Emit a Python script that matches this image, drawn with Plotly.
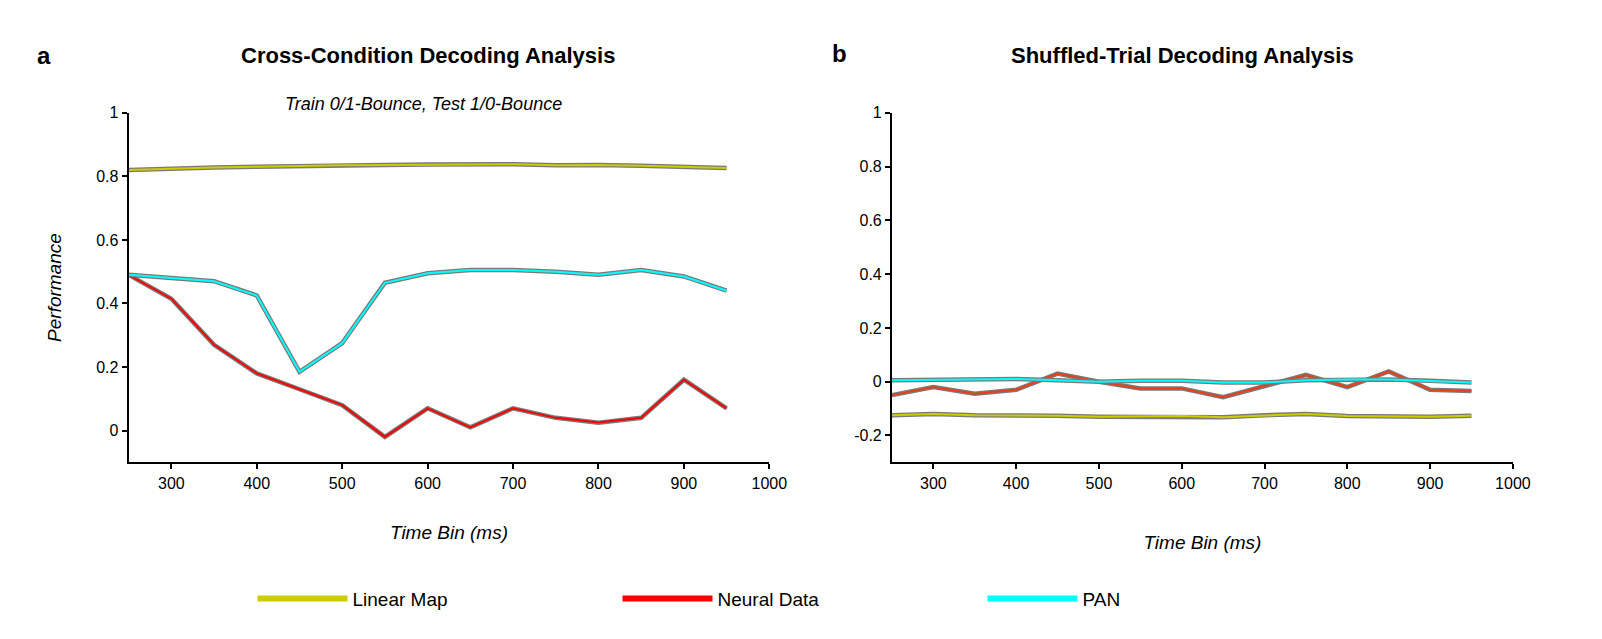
import plotly.graph_objects as go

time_bins = [250, 300, 350, 400, 450, 500, 550, 600, 650, 700, 750, 800, 850, 900, 950]

# panel a: cross-condition
a_linear = [0.82, 0.825, 0.828, 0.83, 0.833, 0.835, 0.836, 0.837, 0.838, 0.838, 0.835, 0.836, 0.833, 0.83, 0.826]
a_neural = [0.49, 0.415, 0.27, 0.18, 0.13, 0.08, -0.02, 0.07, 0.01, 0.07, 0.04, 0.025, 0.04, 0.16, 0.07]
a_pan = [0.49, 0.48, 0.47, 0.425, 0.185, 0.275, 0.465, 0.495, 0.505, 0.505, 0.5, 0.49, 0.505, 0.485, 0.44]

# panel b: shuffled-trial
b_linear = [-0.125, -0.12, -0.125, -0.125, -0.127, -0.13, -0.13, -0.128, -0.132, -0.125, -0.12, -0.128, -0.13, -0.13, -0.127]
b_neural = [-0.05, -0.02, -0.045, -0.03, 0.03, 0.0, -0.025, -0.025, -0.058, -0.015, 0.025, -0.02, 0.038, -0.03, -0.035]
b_pan = [0.005, 0.007, 0.01, 0.01, 0.005, 0.0, 0.003, 0.003, -0.003, -0.003, 0.005, 0.008, 0.008, 0.003, -0.003]

x_ticks = [300, 400, 500, 600, 700, 800, 900, 1000]
a_yticks = [0, 0.2, 0.4, 0.6, 0.8, 1]
b_yticks = [-0.2, 0, 0.2, 0.4, 0.6, 0.8, 1]

series_names = ["Linear Map", "Neural Data", "PAN"]
colors = ["#cccc00", "#ff0000", "#00ffff"]
b_colors = ["#cccc00", "#e8401a", "#00ffff"]

fig = go.Figure()

panels = [
    ("x", "y", [a_linear, a_neural, a_pan], colors),
    ("x2", "y2", [b_linear, b_neural, b_pan], b_colors),
]
for xa, ya, series, cols in panels:
    for name, vals, col in zip(series_names, series, cols):
        # gray band behind the line (error shading)
        fig.add_trace(go.Scatter(x=time_bins, y=vals, mode="lines", xaxis=xa, yaxis=ya,
                                 line=dict(color="#7a7a7a", width=4.5), showlegend=False,
                                 hoverinfo="skip"))
        fig.add_trace(go.Scatter(x=time_bins, y=vals, mode="lines", xaxis=xa, yaxis=ya,
                                 line=dict(color=col, width=2), name=name,
                                 showlegend=False))

# legend entries
for name, col in zip(series_names, colors):
    fig.add_trace(go.Scatter(x=[None], y=[None], mode="lines", name=name,
                             line=dict(color=col, width=6)))

W, H = 1602, 639
axis_common = dict(showline=True, linecolor="black", linewidth=2, ticks="outside",
                   ticklen=5, tickwidth=2, tickcolor="black", showgrid=False,
                   zeroline=False, tickfont=dict(size=16, color="black"))

fig.update_layout(
    width=W, height=H,
    paper_bgcolor="white", plot_bgcolor="white",
    font=dict(family="Liberation Sans, Arial, sans-serif", color="black"),
    margin=dict(l=0, r=0, t=0, b=0),
    xaxis=dict(domain=[122 / W, 770 / W], range=[250, 1000], tickvals=x_ticks,
               title=dict(text="<i>Time Bin (ms)</i>", font=dict(size=19), standoff=35), **axis_common),
    yaxis=dict(domain=[1 - 452 / H, 1 - 98 / H], range=[-0.1, 1.0], tickvals=a_yticks,
               ticktext=["0", "0.2", "0.4", "0.6", "0.8", "1"],
               title=dict(text="<i>Performance</i>", font=dict(size=19), standoff=30), **axis_common),
    xaxis2=dict(domain=[894 / W, 1522 / W], range=[250, 1000], tickvals=x_ticks, anchor="y2",
                title=dict(text="<i>Time Bin (ms)</i>", font=dict(size=19), standoff=45), **axis_common),
    yaxis2=dict(domain=[1 - 452 / H, 1 - 98 / H], range=[-0.3, 1.0], tickvals=b_yticks,
                ticktext=["-0.2", "0", "0.2", "0.4", "0.6", "0.8", "1"], anchor="x2", **axis_common),
    legend=dict(orientation="h", x=0.5, xanchor="center", y=1 - 590 / H, yanchor="middle",
                font=dict(size=19), itemwidth=90, tracegroupgap=0, entrywidth=260),
    annotations=[
        dict(text="<b>a</b>", x=36 / W, y=1 - 40 / H, xref="paper", yref="paper",
             showarrow=False, font=dict(size=24), xanchor="center", yanchor="middle"),
        dict(text="<b>b</b>", x=841 / W, y=1 - 38 / H, xref="paper", yref="paper",
             showarrow=False, font=dict(size=24), xanchor="center", yanchor="middle"),
        dict(text="<b>Cross-Condition Decoding Analysis</b>", x=425 / W, y=1 - 40 / H,
             xref="paper", yref="paper", showarrow=False, font=dict(size=22),
             xanchor="center", yanchor="middle"),
        dict(text="<b>Shuffled-Trial Decoding Analysis</b>", x=1188 / W, y=1 - 40 / H,
             xref="paper", yref="paper", showarrow=False, font=dict(size=22),
             xanchor="center", yanchor="middle"),
        dict(text="<i>Train 0/1-Bounce, Test 1/0-Bounce</i>", x=420 / W, y=1 - 89 / H,
             xref="paper", yref="paper", showarrow=False, font=dict(size=18),
             xanchor="center", yanchor="middle"),
    ],
)

fig.write_html("out.html")
